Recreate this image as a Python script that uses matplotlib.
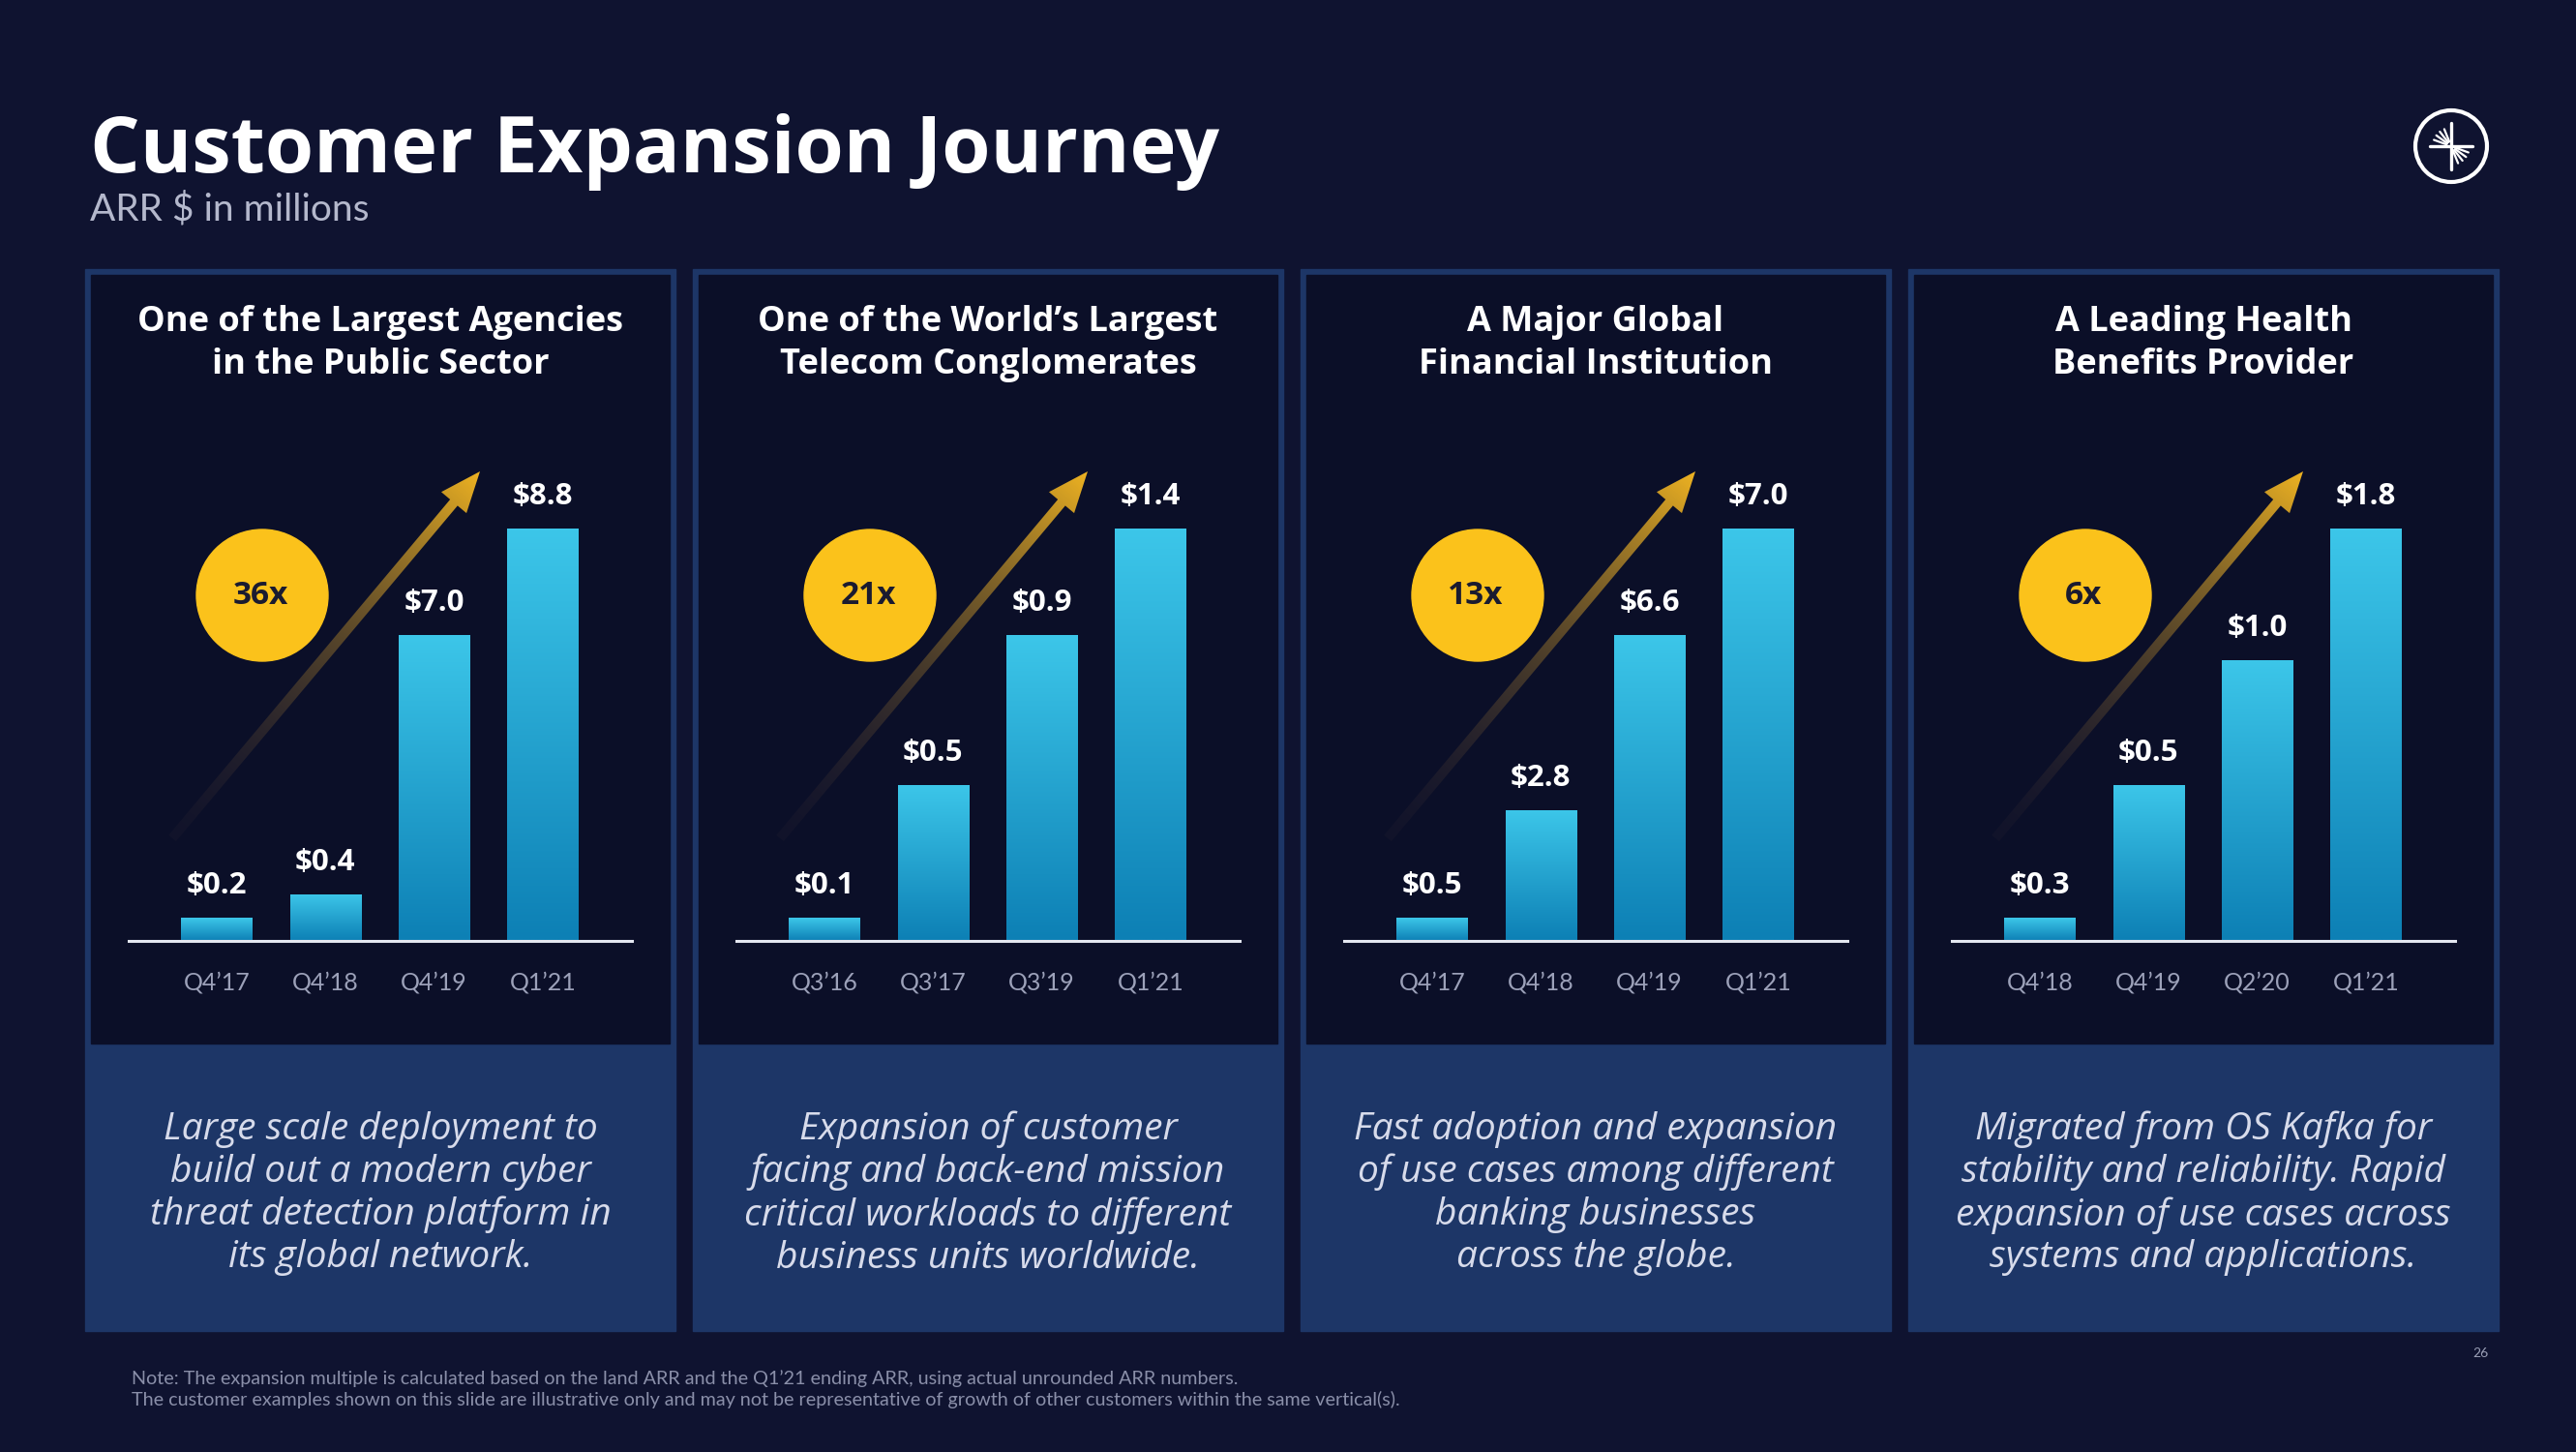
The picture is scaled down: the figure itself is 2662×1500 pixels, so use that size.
import numpy as np
import matplotlib
matplotlib.use("Agg")
import matplotlib.pyplot as plt
from matplotlib.patches import Rectangle, Circle, Polygon
from matplotlib.colors import to_rgb

W, H = 2662, 1500

# ---- data ----
panel_titles = [
    "One of the Largest Agencies\nin the Public Sector",
    "One of the World\u2019s Largest\nTelecom Conglomerates",
    "A Major Global\nFinancial Institution",
    "A Leading Health\nBenefits Provider",
]
quarters = [
    ["Q4\u201917", "Q4\u201918", "Q4\u201919", "Q1\u201921"],
    ["Q3\u201916", "Q3\u201917", "Q3\u201919", "Q1\u201921"],
    ["Q4\u201917", "Q4\u201918", "Q4\u201919", "Q1\u201921"],
    ["Q4\u201918", "Q4\u201919", "Q2\u201920", "Q1\u201921"],
]
arr_public = [0.2, 0.4, 7.0, 8.8]
arr_telecom = [0.1, 0.5, 0.9, 1.4]
arr_finance = [0.5, 2.8, 6.6, 7.0]
arr_health = [0.3, 0.5, 1.0, 1.8]
arr_values = [arr_public, arr_telecom, arr_finance, arr_health]
# bar heights as drawn on the slide (not to scale), Q1'21 bar = 100
heights_public = [5.6, 11.3, 74.2, 100]
heights_telecom = [5.6, 37.8, 74.2, 100]
heights_finance = [5.6, 31.7, 74.2, 100]
heights_health = [5.6, 37.8, 68.1, 100]
bar_heights = [heights_public, heights_telecom, heights_finance, heights_health]
multiples = ["36x", "21x", "13x", "6x"]
descriptions = [
    "Large scale deployment to\nbuild out a modern cyber\nthreat detection platform in\nits global network.",
    "Expansion of customer\nfacing and back-end mission\ncritical workloads to different\nbusiness units worldwide.",
    "Fast adoption and expansion\nof use cases among different\nbanking businesses\nacross the globe.",
    "Migrated from OS Kafka for\nstability and reliability. Rapid\nexpansion of use cases across\nsystems and applications.",
]
notes = [
    "Note: The expansion multiple is calculated based on the land ARR and the Q1\u201921 ending ARR, using actual unrounded ARR numbers.",
    "The customer examples shown on this slide are illustrative only and may not be representative of growth of other customers within the same vertical(s).",
]

BG = "#0f1330"
PANEL_DARK = "#0b0f28"
PANEL_BLUE = "#1d3667"
YELLOW = "#fbc21b"
HEAD = ["Open Sans", "DejaVu Sans"]

plt.rcParams["font.family"] = ["Lato", "DejaVu Sans"]


def gradient_arrow(ax, x0, y0, x1, y1, shaft=10, head_w=34, head_l=42):
    p0, p1 = np.array([x0, y0], float), np.array([x1, y1], float)
    L = np.hypot(*(p1 - p0))
    u = (p1 - p0) / L
    n = np.array([-u[1], u[0]])
    pb = p1 - u * head_l
    pts = [p0 + n * shaft / 2, pb + n * shaft / 2, pb + n * head_w / 2, p1,
           pb - n * head_w / 2, pb - n * shaft / 2, p0 - n * shaft / 2]
    poly = Polygon(pts, closed=True, fc="none", ec="none")
    ax.add_patch(poly)
    pts = np.array(pts)
    xmin, ymin = pts.min(axis=0) - 2
    xmax, ymax = pts.max(axis=0) + 2
    X, Y = np.meshgrid(np.linspace(xmin, xmax, 200), np.linspace(ymin, ymax, 200))
    t = np.clip(((X - x0) * u[0] + (Y - y0) * u[1]) / L, 0, 1)[..., None]
    c0 = np.array(to_rgb("#2a2434"))
    c1 = np.array(to_rgb("#f0b422"))
    rgb = c0 * (1 - t ** 1.3) + c1 * t ** 1.3
    alpha = 0.2 + 0.8 * t
    img = np.concatenate([rgb, alpha], axis=2)
    im = ax.imshow(img, extent=(xmin, xmax, ymax, ymin), origin="upper",
                   aspect="auto", interpolation="bilinear", zorder=3)
    im.set_clip_path(poly)


fig = plt.figure(figsize=(W / 100, H / 100), dpi=100)
fig.patch.set_facecolor(BG)
bg = fig.add_axes([0, 0, 1, 1])
bg.set_xlim(0, W)
bg.set_ylim(H, 0)
bg.axis("off")

# title
bg.text(93, 178, "Customer Expansion Journey", fontsize=58.5, fontweight="bold",
        color="white", va="baseline", family=HEAD)
bg.text(93, 228, "ARR $ in millions", fontsize=28, color="#b4b8cc", va="baseline")

top_grad = np.linspace(to_rgb("#3cc6e9"), to_rgb("#0d80b5"), 64)[:, None, :]

for i in range(4):
    left = 88 + i * 628
    cx = left + 305
    bg.add_patch(Rectangle((left, 278), 610, 1097, color=PANEL_BLUE, zorder=1))
    bg.add_patch(Rectangle((left + 6, 284), 598, 794, color=PANEL_DARK, zorder=1))
    bg.text(cx, 355, panel_titles[i], ha="center", va="center", fontsize=26,
            fontweight="bold", color="white", linespacing=1.32, zorder=2,
            family=HEAD)
    bg.text(cx, 1233, descriptions[i], ha="center", va="center", fontsize=28,
            style="italic", color="#d7dbeb", linespacing=1.2, zorder=2,
            family=HEAD)

    # multiple badge + growth arrow
    gradient_arrow(bg, left + 90, 866, left + 408, 487)
    bg.add_patch(Circle((left + 183, 615), 68, color=YELLOW, zorder=4))
    bg.text(left + 181, 615, multiples[i], ha="center", va="center", fontsize=24,
            fontweight="bold", color="#1a1b30", zorder=5, family=HEAD)

    # bar chart
    ax = fig.add_axes([(left + 45) / W, (H - 972) / H, 520 / W, 426 / H])
    ax.patch.set_alpha(0)
    bars = ax.bar(range(4), bar_heights[i], width=0.65, color="#2aaad8", zorder=2)
    for b in bars:
        x, w, h = b.get_x(), b.get_width(), b.get_height()
        im = ax.imshow(top_grad, extent=(x, x + w, 0, h), origin="upper",
                       aspect="auto", interpolation="bilinear", zorder=3)
        im.set_clip_path(b)
    for j, (v, h) in enumerate(zip(arr_values[i], bar_heights[i])):
        ax.annotate(f"${v:.1f}", (j, h), xytext=(0, 33), textcoords="offset pixels",
                    ha="center", va="center", fontsize=22.5, fontweight="bold",
                    color="white", annotation_clip=False, family=HEAD)
    ax.axhline(0, color="#e4e7f0", lw=2.2, clip_on=False, zorder=4)
    ax.set_xlim(-0.81, 3.82)
    ax.set_ylim(0, 100)
    ax.set_xticks(range(4))
    ax.set_xticklabels(quarters[i], fontsize=18, color="#9ca1b9")
    ax.tick_params(axis="x", length=0, pad=23)
    ax.set_yticks([])
    for s in ax.spines.values():
        s.set_visible(False)

# footnote and page number
bg.text(136, 1424, notes[0], fontsize=14.2, color="#8a8fa9", va="center")
bg.text(136, 1446, notes[1], fontsize=14.2, color="#8a8fa9", va="center")
bg.text(2563, 1398, "26", fontsize=10, color="#9a9fb6", ha="center", va="center")

# logo
bg.add_patch(Circle((2533, 151), 37, fill=False, ec="white", lw=3, zorder=5))
lc = (2533, 151)
for ang, ln in [(0, 22), (90, 24), (180, 22), (270, 24)]:
    a = np.deg2rad(ang)
    bg.plot([lc[0], lc[0] + ln * np.cos(a)], [lc[1], lc[1] - ln * np.sin(a)],
            color="white", lw=2.4, solid_capstyle="round", zorder=6)
for ang in [112, 128, 144, 160, 292, 308, 324, 340]:
    a = np.deg2rad(ang)
    bg.plot([lc[0] + 5 * np.cos(a), lc[0] + 19 * np.cos(a)],
            [lc[1] - 5 * np.sin(a), lc[1] - 19 * np.sin(a)],
            color="white", lw=1.6, solid_capstyle="round", zorder=6)

bg.set_xlim(0, W)
bg.set_ylim(H, 0)
fig.savefig("out.png", dpi=100, facecolor=BG)
